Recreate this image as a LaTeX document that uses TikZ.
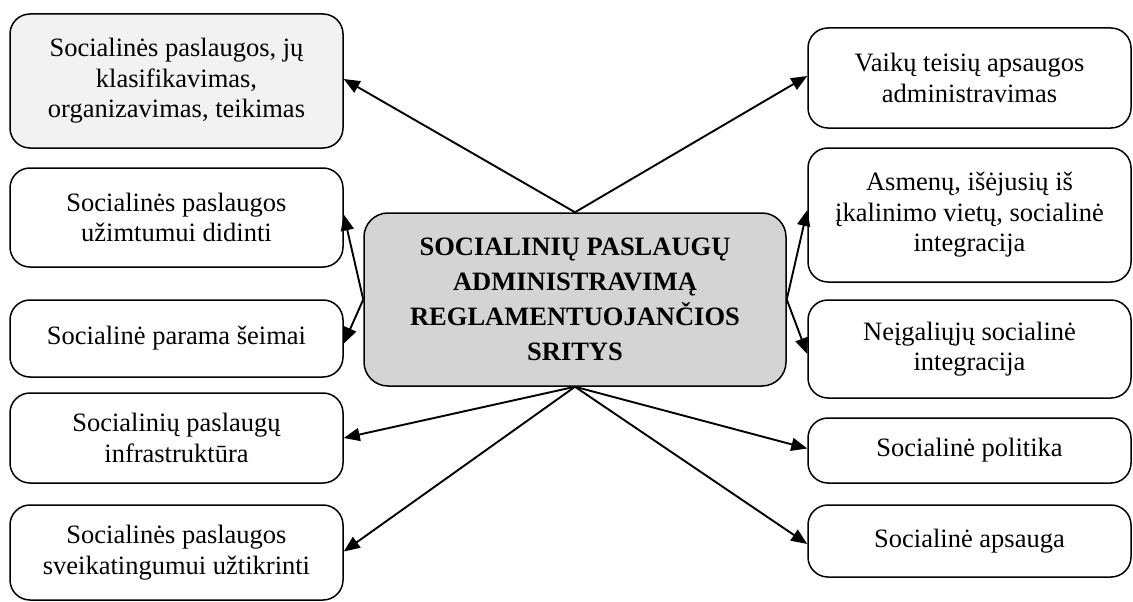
\documentclass[tikz,border=0pt]{standalone}
\usepackage{fontspec}
\setmainfont{Liberation Serif}
\usetikzlibrary{arrows.meta}
\begin{document}
\begin{tikzpicture}[x=1pt,y=-1pt,
  box/.style={draw=black, line width=1.5pt, rounded corners=20pt, align=center,
    font=\fontsize{26.5}{30.5}\selectfont, inner sep=0pt},
  lbox/.style={box, minimum width=333pt},
  rbox/.style={box, minimum width=323pt},
  center box/.style={draw=black, line width=1.5pt, rounded corners=24pt, align=center,
    fill=black!17, font=\fontsize{26.5}{35}\selectfont\bfseries, inner sep=0pt,
    minimum width=422pt, minimum height=173pt},
  arr/.style={line width=1.9pt, -{Triangle[length=16pt,width=13pt]}}
]
\useasboundingbox (0,0) rectangle (1133,602);
\node[center box] (C) at (575,299.5) {SOCIALINIŲ PASLAUGŲ\\ADMINISTRAVIMĄ\\REGLAMENTUOJANČIOS\\SRITYS};

\node[lbox, minimum height=134pt, fill=black!5] (L1) at (176.5,81) {Socialinės paslaugos, jų\\klasifikavimas,\\organizavimas, teikimas};
\node[lbox, minimum height=99pt] (L2) at (176.5,217.5) {Socialinės paslaugos\\užimtumui didinti};
\node[lbox, minimum height=77pt] (L3) at (176.5,338.5) {Socialinė parama šeimai};
\node[lbox, minimum height=90pt] (L4) at (176.5,438) {Socialinių paslaugų\\infrastruktūra};
\node[lbox, minimum height=95pt] (L5) at (176.5,552.5) {Socialinės paslaugos\\sveikatingumui užtikrinti};

\node[rbox, minimum height=100pt] (R1) at (969.5,78) {Vaikų teisių apsaugos\\administravimas};
\node[rbox, minimum height=134pt] (R2) at (969.5,215) {Asmenų, išėjusių iš\\įkalinimo vietų, socialinė\\integracija};
\node[rbox, minimum height=98pt] (R3) at (969.5,349) {Neįgaliųjų socialinė\\integracija};
\node[rbox, minimum height=65pt] (R4) at (969.5,450.5) {Socialinė politika};
\node[rbox, minimum height=72pt] (R5) at (969.5,541) {Socialinė apsauga};

\draw[arr] (C.north) -- ([yshift=2pt]L1.east);
\draw[arr] (C.west) -- ([yshift=3pt]L2.east);
\draw[arr] (C.west) -- ([yshift=-5pt]L3.east);
\draw[arr] (C.south) -- (L4.east);
\draw[arr] (C.south) -- ([yshift=1pt]L5.east);
\draw[arr] (C.north) -- ([yshift=2pt]R1.west);
\draw[arr] (C.east) -- ([yshift=5pt]R2.west);
\draw[arr] (C.east) -- ([yshift=-5pt]R3.west);
\draw[arr] (C.south) -- ([yshift=2pt]R4.west);
\draw[arr] (C.south) -- ([yshift=-3pt]R5.west);
\end{tikzpicture}
\end{document}
